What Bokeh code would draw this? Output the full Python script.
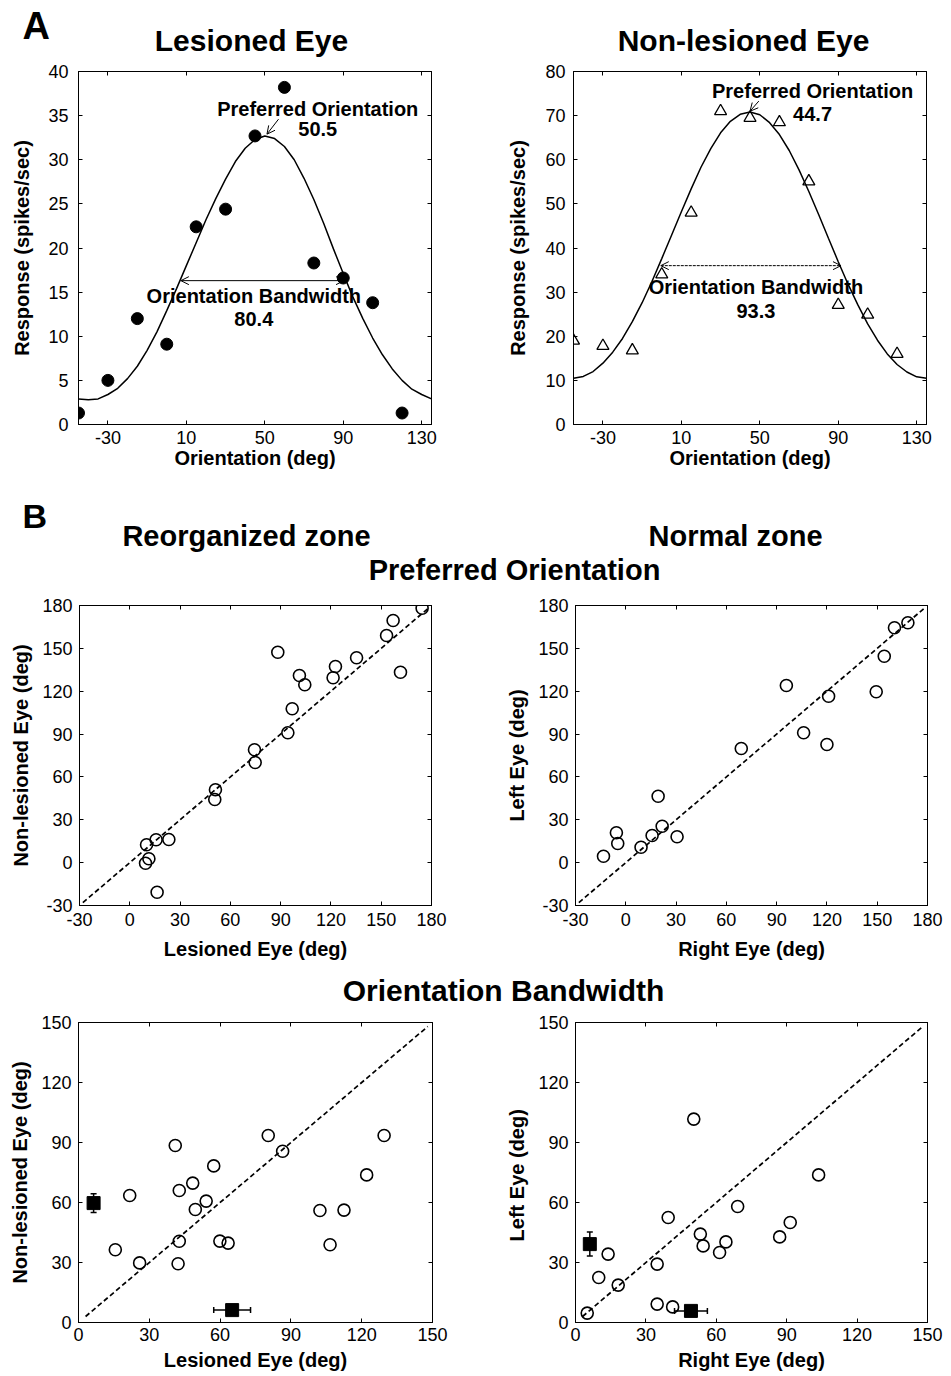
from bokeh.plotting import figure
from bokeh.layouts import column, row
from bokeh.models import (Range1d, FixedTicker, LinearAxis, Arrow, OpenHead,
                          Whisker, TeeHead, ColumnDataSource)
from bokeh.core.properties import value
from bokeh.embed import file_html
from bokeh.resources import INLINE

FONT = "Liberation Sans"

# ---------------- data: panel A (tuning curves) ----------------
orient = [-45, -30, -15, 0, 15, 30, 45, 60, 75, 90, 105, 120]
lesioned_resp = [1.3, 5.0, 12.0, 9.1, 22.4, 24.4, 32.7, 38.2, 18.3, 16.6, 13.8, 1.3]
nonlesioned_resp = [19.0, 17.8, 16.8, 34.0, 48.0, 71.0, 69.5, 68.5, 55.1, 27.1, 24.9, 16.0]

fit_x = [-45, -40, -35, -30, -25, -20, -15, -10, -5, 0, 5, 10, 15, 20, 25, 30, 35,
         40, 45, 50, 55, 60, 65, 70, 75, 80, 85, 90, 95, 100, 105, 110, 115, 120,
         125, 130, 135]
lesioned_fit = [2.9, 2.8, 2.9, 3.4, 4.1, 5.2, 6.6, 8.4, 10.5, 12.9, 15.4, 18.0,
                20.6, 23.2, 25.6, 27.8, 29.8, 31.3, 32.3, 32.7, 32.4, 31.5, 30.0,
                27.9, 25.5, 22.8, 19.9, 17.1, 14.4, 12.0, 9.8, 7.9, 6.3, 5.0, 4.0,
                3.4, 2.9]
nonlesioned_fit = [10.5, 10.9, 12.0, 13.9, 16.4, 19.5, 23.3, 27.6, 32.4, 37.6, 42.9,
                   48.2, 53.4, 58.3, 62.5, 66.1, 68.7, 70.3, 70.8, 70.2, 68.4, 65.7,
                   62.1, 57.7, 52.8, 47.6, 42.2, 36.9, 31.8, 27.1, 22.8, 19.1, 16.0,
                   13.6, 11.9, 10.8, 10.5]

lesioned_pref = 50.5
lesioned_bw = 80.4
lesioned_bw_ends = [7.2, 90.4]
lesioned_bw_level = 16.3
nonlesioned_pref = 44.7
nonlesioned_bw = 93.3
nonlesioned_bw_ends = [-0.5, 91.4]
nonlesioned_bw_level = 36.0

a_xticks = [-30, 10, 50, 90, 130]
a_left_yticks = [0, 5, 10, 15, 20, 25, 30, 35, 40]
a_right_yticks = [0, 10, 20, 30, 40, 50, 60, 70, 80]

# ---------------- data: panel B, preferred orientation ----------------
reorg_po_lesioned = [174.4, 157.1, 153.2, 88.3, 135.3, 161.5, 101.2, 122.7, 121.3,
                     104.4, 96.9, 94.3, 74.4, 74.8, 51.1, 50.7, 23.3, 15.7, 10.0,
                     11.4, 9.4, 16.3]
reorg_po_nonlesioned = [178.1, 169.5, 159.0, 147.3, 143.4, 133.3, 131.0, 137.3, 129.4,
                        124.5, 107.7, 90.9, 79.0, 70.1, 51.0, 44.2, 16.2, 16.0, 12.5,
                        2.7, -0.4, -20.7]
normal_po_right = [168.3, 160.3, 154.2, 95.8, 149.4, 121.0, 106.1, 120.0, 68.9, 19.3,
                   21.7, 15.7, 30.6, -5.6, -4.8, 9.1, -13.3]
normal_po_left = [167.9, 164.4, 144.5, 124.0, 119.6, 116.5, 90.9, 82.7, 79.9, 46.5,
                  25.5, 19.0, 18.1, 20.9, 13.4, 10.8, 4.5]
po_ticks = [-30, 0, 30, 60, 90, 120, 150, 180]
po_diag = [-28, 178]

# ---------------- data: panel B, orientation bandwidth ----------------
reorg_bw_lesioned = [15.6, 21.7, 25.9, 41.0, 42.7, 48.4, 49.5, 54.1, 42.7, 42.2, 57.3,
                     59.9, 63.4, 80.4, 86.5, 102.3, 106.6, 112.5, 122.1, 129.5]
reorg_bw_nonlesioned = [36.4, 63.5, 29.8, 88.5, 66.0, 69.7, 56.5, 60.7, 40.6, 29.4,
                        78.3, 40.7, 39.7, 93.5, 85.6, 56.0, 38.9, 56.2, 73.8, 93.5]
reorg_mean_x = [6.4, 65.1]
reorg_mean_y = [59.7, 6.2]
reorg_err_x = [0.0, 7.8]
reorg_err_y = [4.7, 0.0]

normal_bw_right = [5.0, 9.9, 13.9, 18.2, 34.8, 34.8, 41.4, 39.5, 50.4, 53.2, 54.4,
                   61.4, 64.1, 69.1, 87.0, 91.5, 103.6]
normal_bw_left = [4.7, 22.5, 34.2, 18.7, 29.2, 9.2, 7.8, 52.5, 101.7, 44.2, 38.3,
                  35.0, 40.3, 58.0, 42.8, 50.0, 73.8]
normal_mean_x = [6.1, 49.2]
normal_mean_y = [39.2, 5.8]
normal_err_x = [0.0, 7.0]
normal_err_y = [6.0, 0.0]
bw_ticks = [0, 30, 60, 90, 120, 150]
bw_diag = [3, 148]


# ---------------- helpers ----------------
def make_fig(width, height, xr, yr, bl, br, bt, bb):
    p = figure(width=width, height=height, x_range=Range1d(*xr), y_range=Range1d(*yr),
               output_backend="svg", toolbar_location=None, title=None,
               min_border_left=bl, min_border_right=br,
               min_border_top=bt, min_border_bottom=bb)
    p.grid.visible = False
    p.outline_line_color = "black"
    p.outline_line_width = 1
    p.outline_line_alpha = 1
    p.background_fill_color = "white"
    p.border_fill_color = "white"
    return p


def style_axes(p, xticks, yticks, xlabel, ylabel, x_tick_so, x_lab_so, y_tick_so, y_lab_so,
               tick_size="18px"):
    for ax, ticks, lab, tso, lso in ((p.xaxis[0], xticks, xlabel, x_tick_so, x_lab_so),
                                    (p.yaxis[0], yticks, ylabel, y_tick_so, y_lab_so)):
        ax.ticker = FixedTicker(ticks=ticks)
        ax.major_label_overrides = {t: str(t) for t in ticks if t < 0}
        ax.axis_label = lab
        ax.axis_label_text_font = FONT
        ax.axis_label_text_font_style = "bold"
        ax.axis_label_text_font_size = "20px"
        ax.axis_label_text_color = "black"
        ax.axis_label_standoff = lso
        ax.major_label_text_font = FONT
        ax.major_label_text_font_size = tick_size
        ax.major_label_text_color = "black"
        ax.major_label_standoff = tso
        ax.major_tick_in = 4
        ax.major_tick_out = 0
        ax.major_tick_line_color = "black"
        ax.minor_tick_line_color = None
        ax.axis_line_color = "black"
    for side, ticks in (("above", xticks), ("right", yticks)):
        ax = LinearAxis(ticker=FixedTicker(ticks=ticks), major_label_text_font_size="2px",
                        major_label_text_color=None,
                        major_label_standoff=0, major_tick_in=4, major_tick_out=0,
                        minor_tick_line_color=None, axis_line_color="black",
                        major_tick_line_color="black")
        p.add_layout(ax, side)


def header(height):
    p = figure(width=951, height=height, x_range=Range1d(0, 951), y_range=Range1d(height, 0),
               x_axis_type=None, y_axis_type=None, output_backend="svg",
               toolbar_location=None, min_border=0, title=None)
    p.outline_line_color = None
    p.grid.visible = False
    p.background_fill_color = "white"
    p.border_fill_color = "white"
    return p


def htext(p, x, y, txt, size, align="center"):
    p.text(x=[x], y=[y], text=[txt], text_font=value(FONT), text_font_style="bold",
           text_font_size=size, text_align=align, text_baseline="middle",
           text_color="black")


def atext(p, x, y, txt):
    p.text(x=[x], y=[y], text=[txt], text_font=value(FONT), text_font_style="bold",
           text_font_size="20px", text_align="center", text_baseline="middle",
           text_color="black")


# ---------------- header A (page y 0-58) ----------------
hA = header(58)
htext(hA, 22, 25, "A", "38px", "left")
htext(hA, 251, 40, "Lesioned Eye", "30px")
htext(hA, 743, 40, "Non-lesioned Eye", "30px")

# ---------------- row A (page y 58-490), frame 71-424 ----------------
pA1 = make_fig(475, 432, (-45, 135), (0, 40), 78, 44, 13, 66)
style_axes(pA1, a_xticks, a_left_yticks, "Orientation (deg)", "Response (spikes/sec)",
           6, 0, 10, 12)
pA1.line(fit_x, lesioned_fit, line_color="black", line_width=1.5)
pA1.scatter(orient, lesioned_resp, marker="circle", size=12, fill_color="black",
            line_color="black")
atext(pA1, 77, 35.8, "Preferred Orientation")
atext(pA1, 77, 33.5, f"{lesioned_pref}")
pA1.add_layout(Arrow(end=OpenHead(size=8, line_width=1), x_start=57.0, y_start=34.6,
                     x_end=lesioned_pref + 0.6, y_end=32.9, line_width=1))
pA1.add_layout(Arrow(start=OpenHead(size=8, line_width=1), end=OpenHead(size=8, line_width=1),
                     x_start=lesioned_bw_ends[0], x_end=lesioned_bw_ends[1],
                     y_start=lesioned_bw_level, y_end=lesioned_bw_level, line_width=1))
atext(pA1, 44.4, 14.6, "Orientation Bandwidth")
atext(pA1, 44.4, 12.0, f"{lesioned_bw}")

pA2 = make_fig(476, 432, (-45, 135), (0, 80), 98, 25, 13, 66)
style_axes(pA2, a_xticks, a_right_yticks, "Orientation (deg)", "Response (spikes/sec)",
           6, 0, 8, 13)
pA2.line(fit_x, nonlesioned_fit, line_color="black", line_width=1.5)
pA2.scatter(orient, nonlesioned_resp, marker="triangle", size=12, fill_color=None,
            line_color="black", line_width=1.3)
atext(pA2, 76.9, 75.5, "Preferred Orientation")
atext(pA2, 76.9, 70.4, f"{nonlesioned_pref}")
pA2.add_layout(Arrow(end=OpenHead(size=8, line_width=1), x_start=49.5, y_start=73.3,
                     x_end=nonlesioned_pref + 0.3, y_end=71.0, line_width=1))
pA2.add_layout(Arrow(start=OpenHead(size=8, line_width=1), end=OpenHead(size=8, line_width=1),
                     x_start=nonlesioned_bw_ends[0], x_end=nonlesioned_bw_ends[1],
                     y_start=nonlesioned_bw_level, y_end=nonlesioned_bw_level,
                     line_width=1, line_dash="3 1"))
atext(pA2, 48.0, 31.1, "Orientation Bandwidth")
atext(pA2, 48.0, 25.8, f"{nonlesioned_bw}")

# ---------------- header B (page y 490-590) ----------------
hB = header(100)
htext(hB, 22, 25, "B", "34px", "left")
htext(hB, 246, 45, "Reorganized zone", "29px")
htext(hB, 735, 45, "Normal zone", "29px")
htext(hB, 514, 79, "Preferred Orientation", "29px")

# ---------------- row B (page y 590-968), frame 605-905 ----------------
pB1 = make_fig(475, 378, (-30, 180), (-30, 180), 79, 44, 15, 63)
style_axes(pB1, po_ticks, po_ticks, "Lesioned Eye (deg)", "Non-lesioned Eye (deg)",
           7, 9, 7, 7)
pB1.line(po_diag, po_diag, line_color="black", line_width=1.7, line_dash="5 3")
pB1.scatter(reorg_po_lesioned, reorg_po_nonlesioned, marker="circle", size=12,
            fill_color=None, line_color="black", line_width=1.6)

pB2 = make_fig(476, 378, (-30, 180), (-30, 180), 100, 24, 15, 63)
style_axes(pB2, po_ticks, po_ticks, "Right Eye (deg)", "Left Eye (deg)", 7, 9, 7, 7)
pB2.line(po_diag, po_diag, line_color="black", line_width=1.7, line_dash="5 3")
pB2.scatter(normal_po_right, normal_po_left, marker="circle", size=12,
            fill_color=None, line_color="black", line_width=1.6)

# ---------------- header C (page y 968-1010) ----------------
hC = header(42)
htext(hC, 503, 22, "Orientation Bandwidth", "30px")


# ---------------- row C (page y 1010-1376), frame 1022-1322 ----------------
def add_means(p, mx, my, ex, ey):
    vsrc = ColumnDataSource(dict(base=[mx[0]], lower=[my[0] - ey[0]], upper=[my[0] + ey[0]]))
    p.add_layout(Whisker(source=vsrc, base="base", lower="lower", upper="upper",
                         dimension="height", line_width=1.5,
                         upper_head=TeeHead(size=6, line_width=1.5),
                         lower_head=TeeHead(size=6, line_width=1.5)))
    hsrc = ColumnDataSource(dict(base=[my[1]], lower=[mx[1] - ex[1]], upper=[mx[1] + ex[1]]))
    p.add_layout(Whisker(source=hsrc, base="base", lower="lower", upper="upper",
                         dimension="width", line_width=1.5,
                         upper_head=TeeHead(size=6, line_width=1.5),
                         lower_head=TeeHead(size=6, line_width=1.5)))
    p.scatter(mx, my, marker="square", size=13, fill_color="black", line_color="black")


pC1 = make_fig(475, 366, (0, 150), (0, 150), 78, 43, 12, 54)
style_axes(pC1, bw_ticks, bw_ticks, "Lesioned Eye (deg)", "Non-lesioned Eye (deg)",
           5, 5, 7, 7)
pC1.line(bw_diag, bw_diag, line_color="black", line_width=1.7, line_dash="5 3")
pC1.scatter(reorg_bw_lesioned, reorg_bw_nonlesioned, marker="circle", size=12,
            fill_color=None, line_color="black", line_width=1.6)
add_means(pC1, reorg_mean_x, reorg_mean_y, reorg_err_x, reorg_err_y)

pC2 = make_fig(476, 366, (0, 150), (0, 150), 100, 24, 12, 54)
style_axes(pC2, bw_ticks, bw_ticks, "Right Eye (deg)", "Left Eye  (deg)", 5, 5, 7, 7)
pC2.line(bw_diag, bw_diag, line_color="black", line_width=1.7, line_dash="5 3")
pC2.scatter(normal_bw_right, normal_bw_left, marker="circle", size=12,
            fill_color=None, line_color="black", line_width=1.6)
add_means(pC2, normal_mean_x, normal_mean_y, normal_err_x, normal_err_y)

layout = column(hA, row(pA1, pA2), hB, row(pB1, pB2), hC, row(pC1, pC2))

open("out.html", "w").write(file_html(layout, INLINE))
